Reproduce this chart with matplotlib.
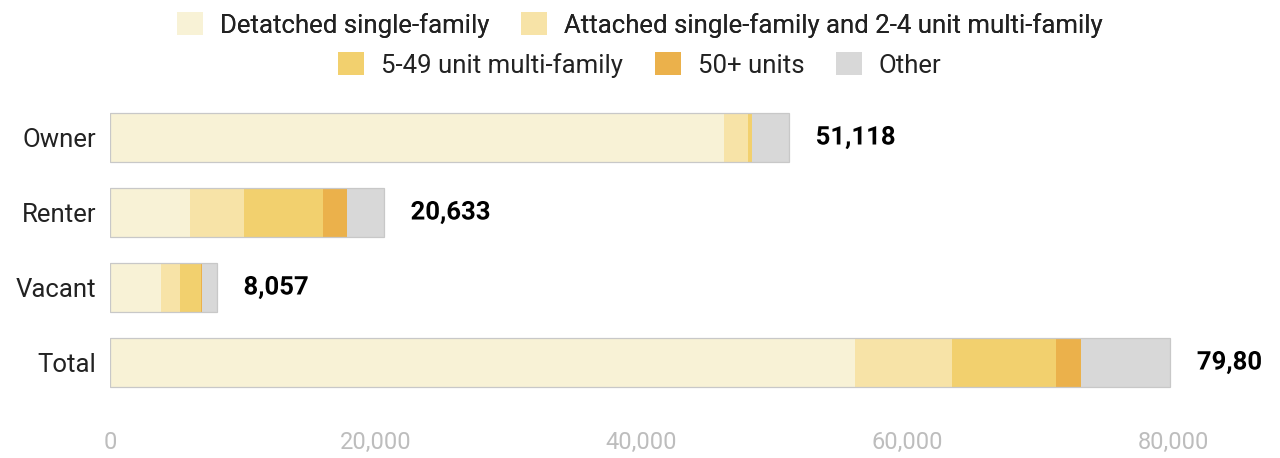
import matplotlib
matplotlib.use("Agg")
import matplotlib.pyplot as plt
import matplotlib.patheffects as pe
from matplotlib.patches import Patch
from matplotlib.transforms import Bbox
import numpy as np

plt.rcParams['font.family'] = ['Roboto', 'DejaVu Sans']

categories = ["Owner", "Renter", "Vacant", "Total"]
series_names = ["Detatched single-family",
                "Attached single-family and 2-4 unit multi-family",
                "5-49 unit multi-family", "50+ units", "Other"]
detached = [46200, 6050, 3850, 56100]
attached = [1800, 4000, 1450, 7250]
multi_5_49 = [300, 6000, 1550, 7850]
multi_50 = [50, 1800, 50, 1900]
other = [2768, 2783, 1157, 6708]
totals = [51118, 20633, 8057, 79808]
colors = ["#F8F2D6", "#F7E3A7", "#F2D06E", "#EBB14B", "#D8D8D8"]
xticks = [0, 20000, 40000, 60000, 80000]

FS = 18.5

fig = plt.figure(figsize=(12.8, 4.58), dpi=100)
ax = fig.add_axes([110/1280, 1-400/458, (1173-110)/1280, 300/458])

series = [detached, attached, multi_5_49, multi_50, other]
y = np.arange(len(categories))
left = np.zeros(len(categories))
h = 0.65
for vals, c in zip(series, colors):
    ax.barh(y, vals, left=left, height=h, color=c, edgecolor='none', zorder=2)
    left += np.array(vals)
# outline
ax.barh(y, left, height=h, fill=False, edgecolor='#C8C8C8', linewidth=0.9, zorder=3)

clip = Bbox.from_extents(0, 0, 1262, 458)
for yi, tot, end in zip(y, totals, left):
    t = ax.annotate(f"{tot:,}", xy=(end, yi), xytext=(19, 0), textcoords='offset points',
                    ha='left', va='center', fontsize=FS, fontweight='bold', color='#000000',
                    annotation_clip=False,
                    path_effects=[pe.withStroke(linewidth=4, foreground='white')])
    t.set_clip_box(clip)
    t.set_clip_on(True)

ax.set_xlim(0, 80000)
ax.set_ylim(3.5, -0.5)
ax.set_yticks(y)
ax.set_yticklabels(categories, fontsize=FS, color='#222222')
ax.set_xticks(xticks)
ax.set_xticklabels([f"{v:,}" for v in xticks], fontsize=17, color='#BDBDBD')
ax.tick_params(axis='x', length=0, pad=22)
ax.tick_params(axis='y', length=0, pad=10)
for s in ax.spines.values():
    s.set_visible(False)

h1 = [Patch(facecolor=colors[i], edgecolor='none') for i in range(2)]
h2 = [Patch(facecolor=colors[i], edgecolor='none') for i in range(2, 5)]
kw = dict(frameon=False, fontsize=FS, handlelength=1.0, handleheight=1.0,
          handletextpad=0.66, columnspacing=1.25, borderpad=0, borderaxespad=0)
leg1 = fig.legend(h1, series_names[:2], loc='center', bbox_to_anchor=(0.5, 1-25/458),
                  ncol=2, **kw)
fig.add_artist(leg1)
leg2 = fig.legend(h2, series_names[2:], loc='center', bbox_to_anchor=(0.5, 1-65/458),
                  ncol=3, **kw)
for t in list(leg1.get_texts()) + list(leg2.get_texts()):
    t.set_color('#222222')

fig.savefig("out.png", dpi=100)
